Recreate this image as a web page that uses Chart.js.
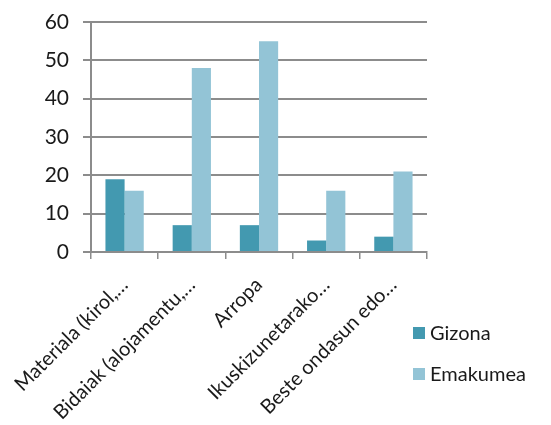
<!DOCTYPE html>
<html>
<head>
<meta charset="utf-8">
<script src="https://cdn.jsdelivr.net/npm/chart.js@4"></script>
<style>
  html, body { margin: 0; padding: 0; background: #fff; }
  #wrap { position: relative; width: 551px; height: 425px; }
</style>
</head>
<body>
<div id="wrap"><canvas id="c" width="551" height="425"></canvas></div>
<script>
const categories = [
  'Materiala (kirol,…',
  'Bidaiak (alojamentu,…',
  'Arropa',
  'Ikuskizunetarako…',
  'Beste ondasun edo…'
];
const gizona = [19, 7, 7, 3, 4];
const emakumea = [16, 48, 55, 16, 21];
const yTicks = [0, 10, 20, 30, 40, 50, 60];

const FONT = 'Lato, "Open Sans", sans-serif';
const GRID = '#8c8c8c';

// legend sits low on the right, like the spreadsheet original
const sideLegend = {
  id: 'sideLegend',
  afterDraw(chart) {
    const ctx = chart.ctx;
    const x = chart.chartArea.right - 14;
    const rows = [333, 374];
    ctx.save();
    ctx.font = '20px ' + FONT;
    ctx.textBaseline = 'middle';
    chart.data.datasets.forEach((ds, i) => {
      ctx.fillStyle = ds.backgroundColor;
      ctx.fillRect(x, rows[i] - 6, 12, 12);
      ctx.fillStyle = '#1a1a1a';
      ctx.fillText(ds.label, x + 17, rows[i] + 1);
    });
    ctx.restore();
  }
};

new Chart(document.getElementById('c'), {
  type: 'bar',
  data: {
    labels: categories,
    datasets: [
      { label: 'Gizona', data: gizona, backgroundColor: '#4399b0',
        categoryPercentage: 0.57, barPercentage: 1 },
      { label: 'Emakumea', data: emakumea, backgroundColor: '#93c4d6',
        categoryPercentage: 0.57, barPercentage: 1 }
    ]
  },
  options: {
    responsive: false,
    animation: false,
    devicePixelRatio: 1,
    layout: { padding: { top: 22, right: 124, left: 0, bottom: 0 } },
    plugins: { legend: { display: false }, tooltip: { enabled: false } },
    scales: {
      x: {
        grid: { display: true, drawOnChartArea: false, color: GRID, lineWidth: 1.5, tickLength: 7, offset: true },
        border: { display: true, color: GRID, width: 1.5 },
        ticks: {
          color: '#1a1a1a', font: { family: FONT, size: 20 },
          minRotation: 45, maxRotation: 45, autoSkip: false, padding: 14
        },
        afterFit(s) { s.height = 173; s.paddingLeft = 0; s.paddingRight = 0; }
      },
      y: {
        min: 0, max: 60,
        afterBuildTicks(s) { s.ticks = yTicks.map(v => ({ value: v })); },
        grid: { color: GRID, lineWidth: 2, tickLength: 8 },
        border: { display: true, color: GRID, width: 2 },
        ticks: { color: '#1a1a1a', font: { family: FONT, size: 21 }, padding: 14 },
        afterFit(s) { s.width = 91; s.paddingTop = 0; s.paddingBottom = 0; }
      }
    }
  },
  plugins: [sideLegend]
});
</script>
</body>
</html>
